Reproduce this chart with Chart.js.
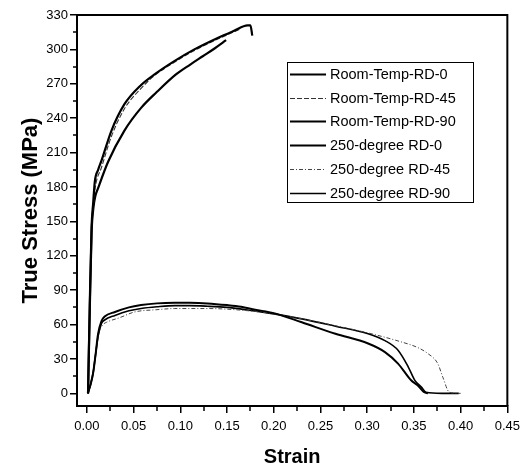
<!DOCTYPE html>
<html>
<head>
<meta charset="utf-8">
<script src="https://cdn.jsdelivr.net/npm/chart.js@4.4.1/dist/chart.umd.min.js"></script>
<style>
  html, body { margin: 0; padding: 0; background: #fff; }
  #wrap { width: 526px; height: 469px; }
</style>
</head>
<body>
<div id="wrap"><canvas id="stressChart" width="526" height="469"></canvas></div>
<script>
// Room temperature curves (strain, true stress MPa)
const rt0Strain = [0.0012, 0.003, 0.005, 0.0067, 0.0085, 0.012, 0.0156, 0.0262, 0.040, 0.058, 0.072, 0.094, 0.115, 0.140, 0.157, 0.172, 0.175, 0.177];
const rt0Stress = [0, 75, 145, 166, 185, 195, 203, 229, 252, 269, 278, 290, 300, 310, 316, 321, 321, 312];

const rt45Strain = [0.0012, 0.003, 0.005, 0.007, 0.009, 0.0156, 0.0262, 0.040, 0.058, 0.072, 0.094, 0.115, 0.140, 0.165];
const rt45Stress = [0, 72, 140, 165, 180, 197, 224, 248, 266, 277, 289, 299, 309, 318];

const rt90Strain = [0.0012, 0.003, 0.005, 0.007, 0.009, 0.012, 0.0227, 0.040, 0.058, 0.075, 0.095, 0.111, 0.124, 0.137, 0.149];
const rt90Stress = [0, 70, 140, 162, 172, 179, 202, 229, 249, 263, 278, 287, 294, 301, 308];

// 250 degree curves
const hot0Strain = [0.0010, 0.004, 0.0067, 0.009, 0.012, 0.0156, 0.019, 0.030, 0.045, 0.058, 0.075, 0.094, 0.110, 0.129, 0.150, 0.165, 0.180, 0.200, 0.230, 0.266, 0.301, 0.319, 0.333, 0.347, 0.354, 0.361, 0.365];
const hot0Stress = [0, 8, 18, 32, 52, 63, 67, 71, 75, 77, 78.5, 79, 79, 78.5, 77, 75.5, 73, 70, 62, 52, 43.5, 36, 26, 11.4, 7, 1, 0];

const hot45Strain = [0.0010, 0.004, 0.0067, 0.009, 0.012, 0.0174, 0.021, 0.035, 0.051, 0.075, 0.094, 0.129, 0.165, 0.195, 0.230, 0.266, 0.301, 0.336, 0.354, 0.365, 0.3755, 0.381, 0.388, 0.400];
const hot45Stress = [0, 8, 18, 32, 50, 60, 62, 66, 71, 73, 74, 74, 72.6, 70, 65, 59, 52.7, 45, 40, 34.7, 26, 14, 1, 0];

const hot90Strain = [0.0010, 0.004, 0.0067, 0.009, 0.012, 0.0156, 0.019, 0.030, 0.045, 0.058, 0.075, 0.094, 0.110, 0.129, 0.150, 0.170, 0.195, 0.230, 0.266, 0.301, 0.319, 0.333, 0.344, 0.351, 0.358, 0.363, 0.380, 0.398];
const hot90Stress = [0, 8, 18, 32, 50, 61, 64, 68, 72, 74, 75.5, 76.5, 76.5, 76, 75, 73, 70, 65, 58.6, 52, 46, 37.6, 23, 11.4, 5.5, 1, 0, 0];

const seriesLabels = ["Room-Temp-RD-0", "Room-Temp-RD-45", "Room-Temp-RD-90", "250-degree RD-0", "250-degree RD-45", "250-degree RD-90"];

const xTicks = [0, 0.05, 0.10, 0.15, 0.20, 0.25, 0.30, 0.35, 0.40, 0.45];
const yTicks = [0, 30, 60, 90, 120, 150, 180, 210, 240, 270, 300, 330];
const xMinorTicks = [0.025, 0.075, 0.125, 0.175, 0.225, 0.275, 0.325, 0.375, 0.425];
const yMinorTicks = [15, 45, 75, 105, 135, 165, 195, 225, 255, 285, 315];

const FONT = "'Liberation Sans', Arial, Helvetica, sans-serif";

function toPoints(xs, ys) {
  return xs.map((x, i) => ({ x: x, y: ys[i] }));
}

function makeSet(label, xs, ys, width, color, dash) {
  return {
    label: label,
    data: toPoints(xs, ys),
    borderColor: color,
    borderWidth: width,
    borderDash: dash,
    showLine: true,
    pointRadius: 0,
    fill: false,
    cubicInterpolationMode: "monotone",
  };
}

// draw frame (top/right), minor ticks and the boxed legend
const framePlugin = {
  id: "frame",
  afterDraw(chart) {
    const ctx = chart.ctx;
    const a = chart.chartArea;
    const xs = chart.scales.x;
    const ys = chart.scales.y;
    ctx.save();
    ctx.strokeStyle = "#000";
    ctx.lineWidth = 2;
    ctx.beginPath();
    ctx.moveTo(a.left, a.top);
    ctx.lineTo(a.right, a.top);
    ctx.lineTo(a.right, a.bottom);
    ctx.stroke();

    ctx.lineWidth = 1.5;
    ctx.beginPath();
    xMinorTicks.forEach((v) => {
      const px = Math.round(xs.getPixelForValue(v));
      ctx.moveTo(px, a.bottom);
      ctx.lineTo(px, a.bottom + 5);
    });
    yMinorTicks.forEach((v) => {
      const py = Math.round(ys.getPixelForValue(v));
      ctx.moveTo(a.left, py);
      ctx.lineTo(a.left - 4, py);
    });
    ctx.stroke();

    // legend box
    const bx = 287.5, by = 62.5, bw = 186, bh = 140;
    ctx.lineWidth = 1;
    ctx.strokeRect(bx, by, bw, bh);
    ctx.font = "14.5px " + FONT;
    ctx.textBaseline = "middle";
    ctx.fillStyle = "#000";
    chart.data.datasets.forEach((ds, i) => {
      const ry = Math.round(74 + i * 23.7) + 0.5;
      ctx.save();
      ctx.strokeStyle = ds.borderColor;
      ctx.lineWidth = Math.min(ds.borderWidth, 1.8);
      ctx.setLineDash(ds.borderDash || []);
      ctx.beginPath();
      ctx.moveTo(290, ry);
      ctx.lineTo(326, ry);
      ctx.stroke();
      ctx.restore();
      ctx.fillText(ds.label, 330, ry);
    });
    ctx.restore();
  },
};

const ctx = document.getElementById("stressChart").getContext("2d");
new Chart(ctx, {
  type: "scatter",
  data: {
    datasets: [
      makeSet(seriesLabels[0], rt0Strain, rt0Stress, 2.2, "#000", []),
      makeSet(seriesLabels[1], rt45Strain, rt45Stress, 1.1, "#333", [5, 2]),
      makeSet(seriesLabels[2], rt90Strain, rt90Stress, 2.2, "#000", []),
      makeSet(seriesLabels[3], hot0Strain, hot0Stress, 2, "#000", []),
      makeSet(seriesLabels[4], hot45Strain, hot45Stress, 1, "#444", [4, 2, 1, 2]),
      makeSet(seriesLabels[5], hot90Strain, hot90Stress, 1.6, "#000", []),
    ],
  },
  options: {
    responsive: false,
    animation: false,
    devicePixelRatio: 1,
    layout: { padding: { top: 15, right: 15, left: 0, bottom: 0 } },
    plugins: {
      legend: { display: false },
      tooltip: { enabled: false },
    },
    scales: {
      x: {
        type: "linear",
        min: -0.0106,
        max: 0.45,
        afterBuildTicks: (scale) => {
          scale.ticks = xTicks.map((v) => ({ value: v }));
        },
        afterFit: (scale) => {
          scale.height = 63;
        },
        ticks: {
          color: "#000",
          padding: 6,
          maxRotation: 0,
          font: { family: FONT, size: 13 },
          callback: (v) => v.toFixed(2),
        },
        grid: { drawOnChartArea: false, drawTicks: true, tickLength: 7, color: "#000", lineWidth: 1.5 },
        border: { display: true, color: "#000", width: 2 },
        title: {
          display: true,
          text: "Strain",
          color: "#000",
          padding: { top: 0, bottom: 0 },
          font: { family: FONT, size: 20, weight: "bold" },
        },
      },
      y: {
        type: "linear",
        min: -11,
        max: 330,
        afterBuildTicks: (scale) => {
          scale.ticks = yTicks.map((v) => ({ value: v }));
        },
        afterFit: (scale) => {
          scale.width = 77;
        },
        ticks: {
          color: "#000",
          padding: 2,
          font: { family: FONT, size: 13 },
          callback: (v) => String(v),
        },
        grid: { drawOnChartArea: false, drawTicks: true, tickLength: 7, color: "#000", lineWidth: 1.5 },
        border: { display: true, color: "#000", width: 2 },
        title: {
          display: true,
          text: "True Stress (MPa)",
          color: "#000",
          padding: { top: 18, bottom: 0 },
          font: { family: FONT, size: 22, weight: "bold" },
        },
      },
    },
  },
  plugins: [framePlugin],
});
</script>
</body>
</html>
